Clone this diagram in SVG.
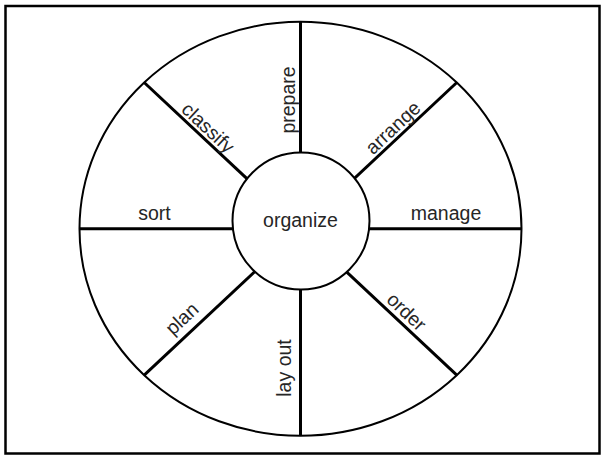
<svg xmlns="http://www.w3.org/2000/svg" width="603" height="457" viewBox="0 0 603 457">
  <style>
    .frame { fill: #ffffff; stroke: #000000; stroke-width: 2.5; }
    .rim { fill: #ffffff; stroke: #000000; stroke-width: 2; }
    .spoke { stroke: #000000; stroke-width: 3; fill: none; }
    .hub { fill: #ffffff; stroke: #000000; stroke-width: 2; }
    .label { font-family: "Liberation Sans", Arial, sans-serif; font-size: 19.5px; fill: #262626; text-anchor: middle; }
  </style>

  <!-- page frame -->
  <rect class="frame" x="5.5" y="6" width="594" height="447.5"/>

  <!-- outer wheel -->
  <g id="wheel">
    <ellipse class="rim" cx="300.5" cy="228.8" rx="221" ry="207"/>
  </g>

  <!-- spokes: from the rim toward the wheel centre, hidden under the hub -->
  <g id="connectors">
    <line class="spoke" x1="300.5" y1="21.8" x2="300.5" y2="228.8"/>
    <line class="spoke" x1="456.8" y1="82.5" x2="300.5" y2="228.8"/>
    <line class="spoke" x1="521.5" y1="228.8" x2="300.5" y2="228.8"/>
    <line class="spoke" x1="456.8" y1="375.1" x2="300.5" y2="228.8"/>
    <line class="spoke" x1="300.5" y1="435.8" x2="300.5" y2="228.8"/>
    <line class="spoke" x1="144.2" y1="375.1" x2="300.5" y2="228.8"/>
    <line class="spoke" x1="79.5" y1="228.8" x2="300.5" y2="228.8"/>
    <line class="spoke" x1="144.2" y1="82.5" x2="300.5" y2="228.8"/>
  </g>

  <!-- centre hub -->
  <g id="organize">
    <circle class="hub" cx="301" cy="221" r="68.5"/>
    <text class="label" x="300.5" y="227">organize</text>
  </g>

  <!-- segment labels -->
  <g id="prepare">
    <text class="label" transform="translate(295,100) rotate(-90)">prepare</text>
  </g>
  <g id="arrange">
    <text class="label" transform="translate(397.5,132.5) rotate(-43.1)">arrange</text>
  </g>
  <g id="manage">
    <text class="label" x="446" y="220">manage</text>
  </g>
  <g id="order">
    <text class="label" transform="translate(402,316.6) rotate(43.1)">order</text>
  </g>
  <g id="lay-out">
    <text class="label" transform="translate(291,368) rotate(-90)">lay out</text>
  </g>
  <g id="plan">
    <text class="label" transform="translate(186.5,323.5) rotate(-43.1)">plan</text>
  </g>
  <g id="sort">
    <text class="label" x="154.5" y="220">sort</text>
  </g>
  <g id="classify">
    <text class="label" transform="translate(203.5,132.6) rotate(43.1)">classify</text>
  </g>
</svg>
